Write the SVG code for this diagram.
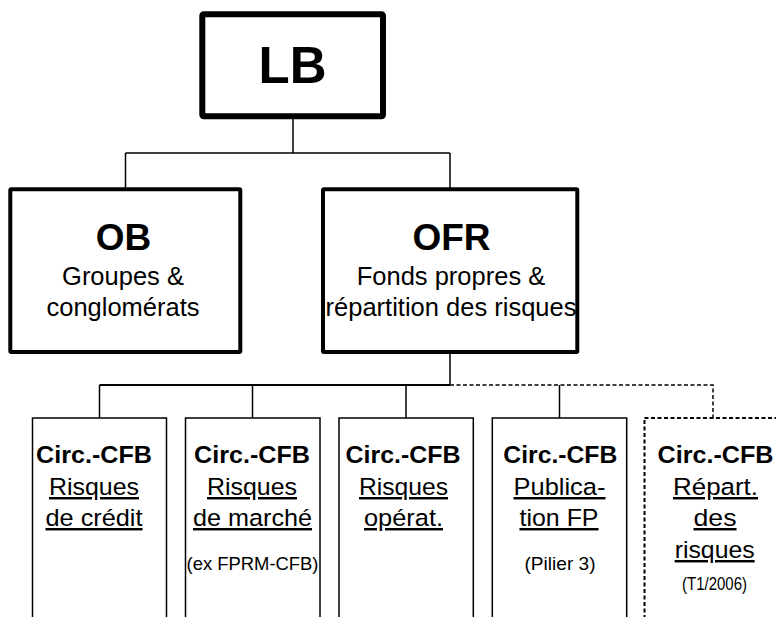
<svg xmlns="http://www.w3.org/2000/svg" width="776" height="617" viewBox="0 0 776 617">
<style>
text{font-family:"Liberation Sans",Arial,sans-serif;fill:#000;text-anchor:middle}
.b{font-weight:bold}
.u{text-decoration:underline}
.top{fill:#fff;stroke:#000;stroke-width:4}
.leaf{fill:#fff;stroke:#000;stroke-width:1.5}
.dash{fill:#fff;stroke:#000;stroke-width:2;stroke-dasharray:4 2.5}
.c{fill:none;stroke:#000;stroke-width:1.5}
.cd{fill:none;stroke:#000;stroke-width:1.5;stroke-dasharray:4 2.5}
.t1{font-size:24.5px}
.s{font-size:18.5px}
</style>
<rect width="776" height="617" fill="#fff"/>
<g id="connectors">
<path class="c" d="M293 117V153M125.5 153H450M125.5 153V189M450 153V189"/>
<path class="c" d="M450 352V385M99.5 418V385M252.5 385V418M406 385V418M559.5 385V418"/>
<path fill="none" stroke="#000" stroke-width="2" d="M99.5 385H450"/>
<path class="cd" d="M450 385H713V418"/>
</g>
<g id="LB">
<rect x="202.3" y="14.3" width="180.7" height="102" rx="1.5" fill="#fff" stroke="#000" stroke-width="6"/>
<text class="b" x="292.5" y="83.3" font-size="51">LB</text>
</g>
<g id="OB">
<rect class="top" x="10.3" y="189.3" width="230" height="162.7" rx="1"/>
<text class="b" x="123.5" y="250" font-size="37">OB</text>
<text x="123" y="285" font-size="25.5">Groupes &amp;</text>
<text x="123" y="316" font-size="25.5">conglomérats</text>
</g>
<g id="OFR">
<rect class="top" x="323" y="189.3" width="254.3" height="162.7" rx="1"/>
<text class="b" x="451.5" y="250" font-size="37">OFR</text>
<text x="451" y="285" font-size="25.5">Fonds propres &amp;</text>
<text x="451" y="315.5" font-size="25.5">répartition des risques</text>
</g>
<g id="credit">
<rect class="leaf" x="32.5" y="418" width="134" height="230"/>
<text class="b t1" x="94" y="463" textLength="116" lengthAdjust="spacingAndGlyphs">Circ.-CFB</text>
<text class="t1 u" x="94" y="495" textLength="90" lengthAdjust="spacingAndGlyphs">Risques</text>
<text class="t1 u" x="94" y="526" textLength="97" lengthAdjust="spacingAndGlyphs">de crédit</text>
</g>
<g id="marche">
<rect class="leaf" x="185.5" y="418" width="134.5" height="230"/>
<text class="b t1" x="252" y="463" textLength="116" lengthAdjust="spacingAndGlyphs">Circ.-CFB</text>
<text class="t1 u" x="252" y="495" textLength="90" lengthAdjust="spacingAndGlyphs">Risques</text>
<text class="t1 u" x="252.5" y="526" textLength="119" lengthAdjust="spacingAndGlyphs">de marché</text>
<text class="s" x="252.5" y="570" textLength="132" lengthAdjust="spacingAndGlyphs">(ex FPRM-CFB)</text>
</g>
<g id="operat">
<rect class="leaf" x="339" y="418" width="134.3" height="230"/>
<text class="b t1" x="403" y="463" textLength="115" lengthAdjust="spacingAndGlyphs">Circ.-CFB</text>
<text class="t1 u" x="403.5" y="495" textLength="89" lengthAdjust="spacingAndGlyphs">Risques</text>
<text class="t1 u" x="403.5" y="526" textLength="79" lengthAdjust="spacingAndGlyphs">opérat.</text>
</g>
<g id="publication">
<rect class="leaf" x="492.3" y="418" width="134.4" height="230"/>
<text class="b t1" x="560.3" y="463" textLength="114" lengthAdjust="spacingAndGlyphs">Circ.-CFB</text>
<text class="t1 u" x="559.5" y="495" textLength="92" lengthAdjust="spacingAndGlyphs">Publica-</text>
<text class="t1 u" x="559" y="526" textLength="79" lengthAdjust="spacingAndGlyphs">tion FP</text>
<text class="s" x="560" y="570" textLength="71" lengthAdjust="spacingAndGlyphs">(Pilier 3)</text>
</g>
<g id="repartition">
<rect class="dash" x="644.5" y="418" width="150" height="230"/>
<text class="b t1" x="715.5" y="463" textLength="116" lengthAdjust="spacingAndGlyphs">Circ.-CFB</text>
<text class="t1 u" x="715.5" y="495" textLength="85" lengthAdjust="spacingAndGlyphs">Répart.</text>
<text class="t1 u" x="715" y="526" textLength="43" lengthAdjust="spacingAndGlyphs">des</text>
<text class="t1 u" x="714.7" y="558" textLength="80" lengthAdjust="spacingAndGlyphs">risques</text>
<text class="s" x="714.5" y="590" textLength="65" lengthAdjust="spacingAndGlyphs">(T1/2006)</text>
</g>
</svg>
